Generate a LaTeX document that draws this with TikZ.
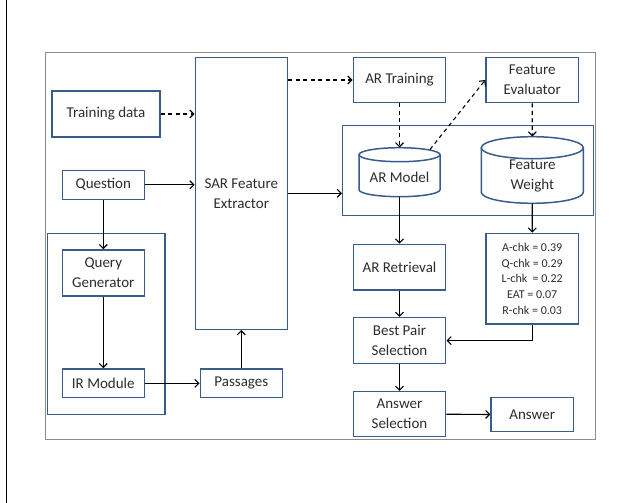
\documentclass[tikz,border=0pt]{standalone}
\usepackage{fontspec}
\setmainfont{Carlito}
\usetikzlibrary{arrows.meta}
\definecolor{boxblue}{RGB}{56,93,138}
\definecolor{txt}{RGB}{45,45,45}
\definecolor{framegrey}{RGB}{140,140,140}
\begin{document}
\begin{tikzpicture}[x=1pt,y=-1pt,
  box/.style={draw=boxblue,line width=1.5pt,fill=white,align=center,inner sep=0pt,
    text=txt,font=\fontsize{15}{20}\selectfont},
  grp/.style={draw=boxblue,line width=1.5pt,inner sep=0pt},
  conn/.style={line width=1.1pt,-{Straight Barb[length=4pt,width=8pt,line width=1.1pt]}},
  dconn/.style={conn,dash pattern=on 4pt off 3.5pt}]
\useasboundingbox (0,0) rectangle (622,503);
\fill[white] (0,0) rectangle (622,503);
\draw[line width=1.3pt] (6.5,0) -- (6.5,503);
\draw[framegrey,line width=0.9pt] (45.3,52.3) rectangle (595.3,439);
% groups
\node[grp,minimum width=117.7pt,minimum height=181pt] (lgrp) at (106.15,323.8) {};
\node[grp,minimum width=250.6pt,minimum height=90.4pt] (rgrp) at (468,170.5) {};
% boxes
\node[box,minimum width=108pt,minimum height=46pt] (train) at (106,114) {Training data};
\node[box,minimum width=82pt,minimum height=29pt] (quest) at (103.3,184.8) {Question};
\node[box,minimum width=92pt,minimum height=272pt] (sar) at (241.3,193.3) {SAR Feature\\Extractor};
\node[box,minimum width=82pt,minimum height=46pt] (qgen) at (103.3,273) {Query\\Generator};
\node[box,minimum width=82pt,minimum height=28.7pt] (irm) at (103.3,383.3) {IR Module};
\node[box,minimum width=82pt,minimum height=28.7pt] (pass) at (241.3,383.3) {Passages};
\node[box,minimum width=92.4pt,minimum height=45.4pt] (artrain) at (399.5,80) {AR Training};
\node[box,minimum width=92.3pt,minimum height=45.4pt] (feval) at (532.2,80) {Feature\\Evaluator};
\node[box,minimum width=92.4pt,minimum height=45.7pt] (arret) at (399.5,267.2) {AR Retrieval};
\node[box,minimum width=92.3pt,minimum height=90.7pt,font=\fontsize{12}{15.8}\selectfont] (wts) at (532.2,278.7)
  {A-chk = 0.39\\Q-chk = 0.29\\L-chk\ \ = 0.22\\EAT = 0.07\\R-chk = 0.03};
\node[box,minimum width=92.4pt,minimum height=46pt] (best) at (399.5,340.7) {Best Pair\\Selection};
\node[box,minimum width=92.4pt,minimum height=45pt] (ans) at (399.5,414.2) {Answer\\Selection};
\node[box,minimum width=82.3pt,minimum height=34.4pt] (answer) at (532.2,414.5) {Answer};
% cylinders
\draw[draw=boxblue,line width=1.5pt,fill=white] (359,154.7) -- (359,189.7)
  arc[start angle=180,end angle=0,x radius=40.5,y radius=7] -- (440,154.7);
\draw[draw=boxblue,line width=1.5pt,fill=white] (399.5,154.7) ellipse[x radius=40.5,y radius=7];
\node[inner sep=0pt,minimum width=81pt,minimum height=49pt,text=txt,font=\fontsize{15}{20}\selectfont] (arm) at (399.5,172.2) {};
\node[text=txt,font=\fontsize{15}{20}\selectfont,inner sep=0pt] (armt) at (399.5,177.7) {AR Model};
\draw[draw=boxblue,line width=1.5pt,fill=white] (481.3,147.7) -- (481.3,192.3)
  arc[start angle=180,end angle=0,x radius=51,y radius=11] -- (583.3,147.7);
\draw[draw=boxblue,line width=1.5pt,fill=white] (532.3,147.7) ellipse[x radius=51,y radius=11];
\node[inner sep=0pt,minimum width=102pt,minimum height=66.6pt] (fw) at (532.3,170) {};
\node[text=txt,font=\fontsize{15}{20}\selectfont,inner sep=0pt,align=center] (fwt) at (532.3,176) {Feature\\Weight};
\coordinate (armtr) at (430,149.5);
% connectors
\draw[dconn] (train.east) -- (sar.west |- train.east);
\draw[conn] (quest.east) -- (sar.west |- quest.east);
\draw[conn] (sar.east) -- (rgrp.west |- sar.east);
\draw[dconn] (sar.east |- artrain.west) -- (artrain.west);
\draw[dconn] (artrain.south) -- (arm.north);
\draw[dconn] (armtr) -- (feval.west);
\draw[dconn] (feval.south) -- (fw.north);
\draw[conn] (arm.south) -- (arret.north);
\draw[conn] (fw.south) -- (wts.north);
\draw[conn] (arret.south) -- (best.north);
\draw[conn] (wts.south) |- (best.east);
\draw[conn] (best.south) -- (ans.north);
\draw[conn] (ans.east) -- (answer.west);
\draw[conn] (quest.south) -- (qgen.north);
\draw[conn] (qgen.south) -- (irm.north);
\draw[conn] (irm.east) -- (pass.west);
\draw[conn] (pass.north) -- (sar.south);
\end{tikzpicture}
\end{document}
